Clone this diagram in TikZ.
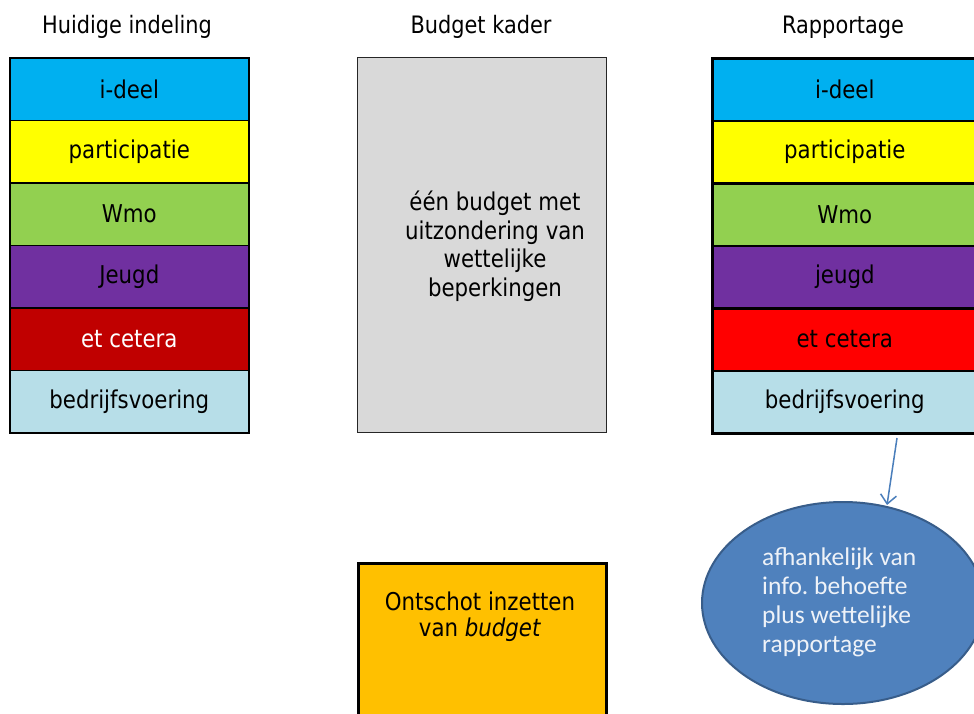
\documentclass[tikz,border=0pt]{standalone}
\usepackage{fontspec}
\setmainfont{DejaVu Sans}[FakeStretch=0.87]
\newfontfamily\calib{Carlito}
\usetikzlibrary{shapes.geometric,arrows.meta}
\frenchspacing
\definecolor{cIdeel}{HTML}{00B0F0}
\definecolor{cPart}{HTML}{FFFF00}
\definecolor{cWmo}{HTML}{92D050}
\definecolor{cJeugd}{HTML}{7030A0}
\definecolor{cEtcL}{HTML}{C00000}
\definecolor{cEtcR}{HTML}{FF0000}
\definecolor{cBedr}{HTML}{B7DEE8}
\definecolor{cGray}{HTML}{D9D9D9}
\definecolor{cOrange}{HTML}{FFC000}
\definecolor{cEll}{HTML}{4F81BD}
\definecolor{cEllB}{HTML}{385D8A}
\definecolor{cArrow}{HTML}{4A7EBB}
\definecolor{cEllTxt}{HTML}{EEF2F8}
\tikzset{
  rowL/.style={draw=black, line width=1.6pt, rectangle, minimum width=239pt, minimum height=62.5pt, inner sep=0pt, anchor=north west, font=\fontsize{24.5}{28}\selectfont},
  rowR/.style={draw=black, line width=2.6pt, rectangle, minimum width=265pt, minimum height=62.5pt, inner sep=0pt, anchor=north west, font=\fontsize{24.5}{28}\selectfont},
  title/.style={font=\fontsize{24}{28}\selectfont, inner sep=0pt, anchor=base},
  bigbox/.style={rectangle, inner sep=0pt, anchor=north west},
}
\begin{document}
\begin{tikzpicture}[x=1pt,y=-1pt]
\useasboundingbox (0,0) rectangle (974,713);
\clip (0,0) rectangle (974,713);
\fill[white] (0,0) rectangle (974,713);
% titles
\node[title] (t1) at (127,33) {Huidige indeling};
\node[title] (t2) at (481,33) {Budget kader};
\node[title] (t3) at (843,33) {Rapportage};
% left column
\node[rowL, fill=cIdeel] (l1) at (9,57) {i-deel};
\node[rowL, fill=cPart] (l2) at (9,119.5) {participatie};
\node[rowL, fill=cWmo] (l3) at (9,182) {Wmo};
\node[rowL, fill=cJeugd] (l4) at (9,244.5) {Jeugd};
\node[rowL, fill=cEtcL, text=white] (l5) at (9,307) {et cetera};
\node[rowL, fill=cBedr] (l6) at (9,369.5) {bedrijfsvoering};
% right column
\node[rowR, fill=cIdeel] (r1) at (711,57) {i-deel};
\node[rowR, fill=cPart] (r2) at (711,119.5) {participatie};
\node[rowR, fill=cWmo] (r3) at (711,182) {Wmo};
\node[rowR, fill=cJeugd] (r4) at (711,244.5) {jeugd};
\node[rowR, fill=cEtcR] (r5) at (711,307) {et cetera};
\node[rowR, fill=cBedr] (r6) at (711,369.5) {bedrijfsvoering};
% middle gray box
\node[bigbox, draw=black!85, line width=1.2pt, fill=cGray, minimum width=249pt, minimum height=375pt] (mid) at (357,57) {};
\node[font=\fontsize{24.5}{28.5}\selectfont, align=center, inner sep=0pt] (midtxt) at (495,246) {één budget met\\uitzondering van\\wettelijke\\beperkingen};
% orange box
\node[bigbox, draw=black, line width=2.6pt, fill=cOrange, minimum width=248pt, minimum height=170pt] (ora) at (357,562) {};
\node[font=\fontsize{24.5}{26.5}\selectfont, align=center, inner sep=0pt] (oratxt) at (480,616.5) {Ontschot inzetten\\van \textit{budget}};
% ellipse
\node[ellipse, draw=cEllB, line width=2pt, fill=cEll, minimum width=282pt, minimum height=202pt, inner sep=0pt] (ell) at (843,603) {};
\node[font=\calib\fontsize{25.5}{29}\selectfont, text=cEllTxt, align=left, anchor=west, inner sep=0pt] (elltxt) at (762,602) {afhankelijk van\\info. behoefte\\plus wettelijke\\rapportage};
% arrow
\coordinate (a1) at (897,438);
\coordinate (a2) at (887,505);
\draw[cArrow, line width=1.5pt, -{Straight Barb[length=9pt,width=16pt]}] (a1) -- (a2);
\end{tikzpicture}
\end{document}
